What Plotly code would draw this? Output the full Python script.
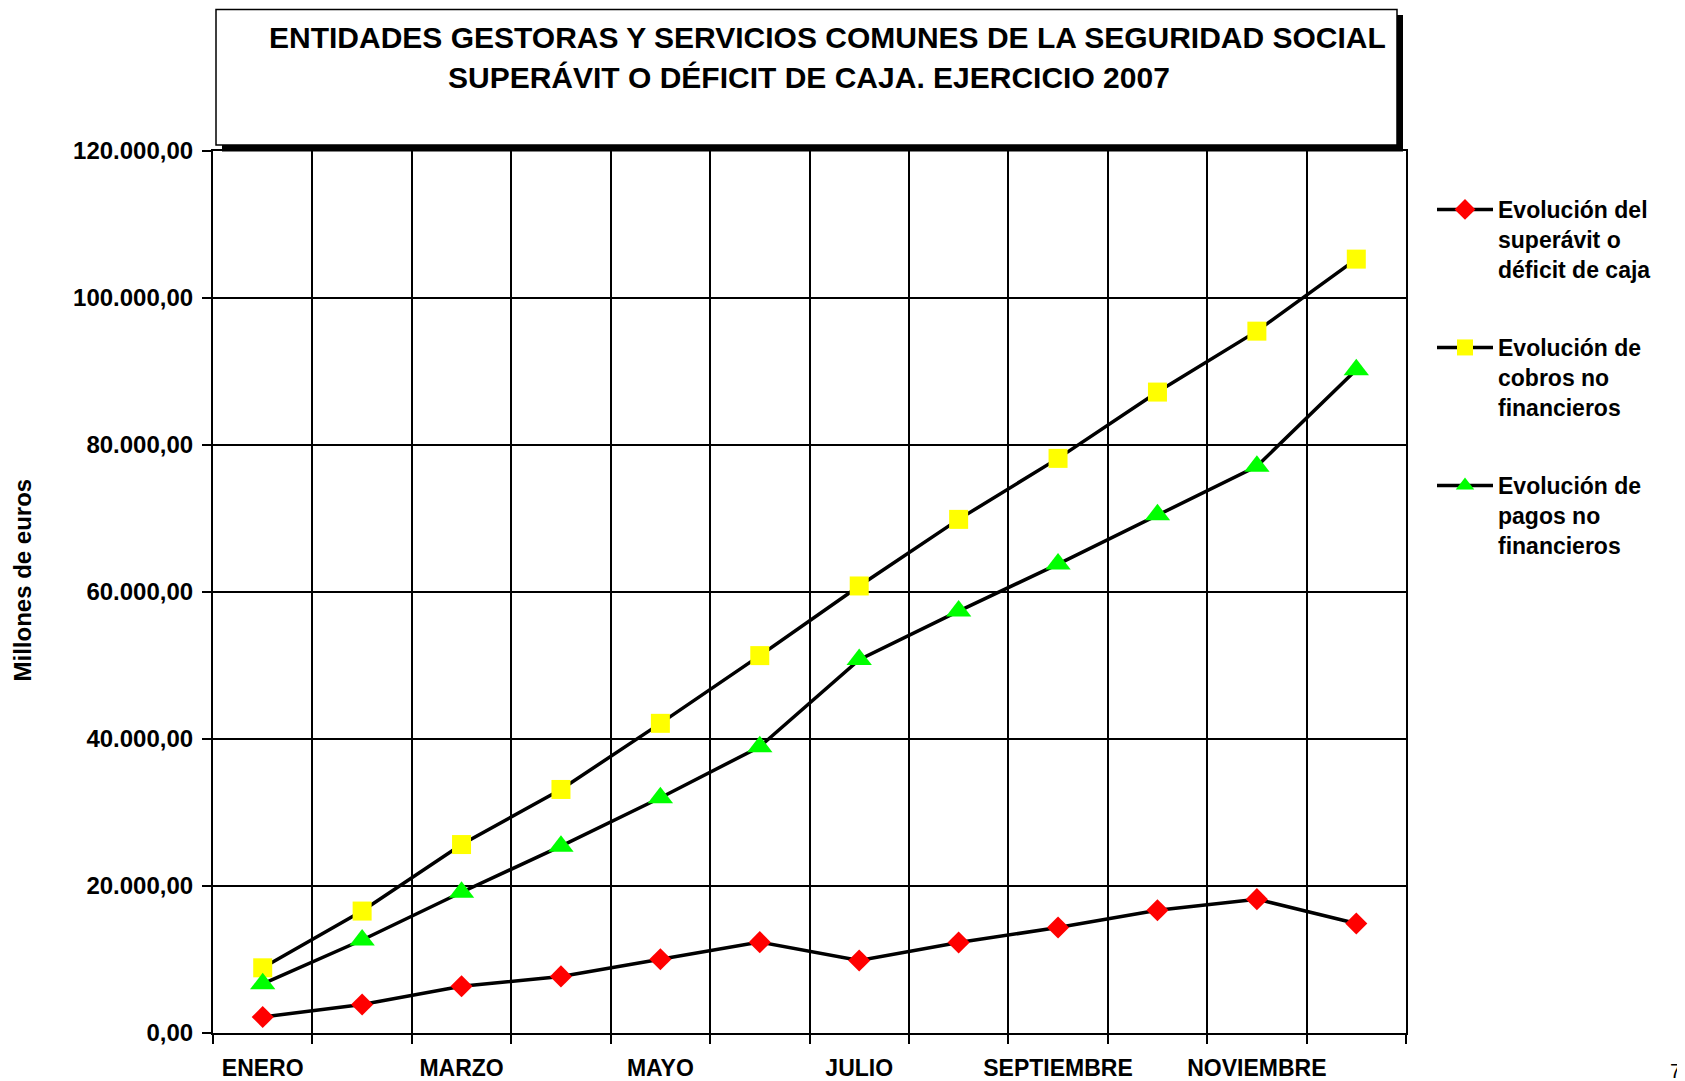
import plotly.graph_objects as go

# ---------------- data ----------------
months = ["ENERO", "FEBRERO", "MARZO", "ABRIL", "MAYO", "JUNIO", "JULIO",
          "AGOSTO", "SEPTIEMBRE", "OCTUBRE", "NOVIEMBRE", "DICIEMBRE"]
month_pos = list(range(1, 13))
label_pos = [1, 3, 5, 7, 9, 11]
label_text = ["ENERO", "MARZO", "MAYO", "JULIO", "SEPTIEMBRE", "NOVIEMBRE"]
grid_pos = [i + 0.5 for i in range(0, 13)]

superavit = [2180, 3870, 6365, 7700, 10040, 12360, 9860, 12310, 14350, 16710, 18210, 14900]
cobros = [8870, 16590, 25640, 33135, 42130, 51345, 60820, 69880, 78180, 87200, 95490, 105290]
pagos = [6690, 12650, 19150, 25420, 32000, 38950, 50800, 57400, 63800, 70500, 77100, 90250]

names = ["Evolución del<br>superávit o<br>déficit de caja",
         "Evolución de<br>cobros no<br>financieros",
         "Evolución de<br>pagos no<br>financieros"]

title1 = "ENTIDADES GESTORAS Y SERVICIOS COMUNES DE LA SEGURIDAD SOCIAL"
title2 = "SUPERÁVIT O DÉFICIT DE CAJA. EJERCICIO 2007"
ytitle = "Millones de euros"
page_number = "7"

# ---------------- layout geometry (screen pixels) ----------------
OFF = 8                      # page body margin
SW, SH = 1685, 1081          # screen size
W, H = SW - OFF, SH - OFF    # figure size
L, R, T, B = 213, 1406, 151, 1033   # plot area in screen pixels
FONT = "Liberation Sans, Arial, sans-serif"


def px(x):
    return (x - L) / (R - L)


def py(y):
    return (B - y) / (B - T)


def cx(x):
    return (x - OFF) / W


def cy(y):
    return 1 - (y - OFF) / H


fig = go.Figure()

fig.add_trace(go.Scatter(
    x=month_pos, y=superavit, name=names[0], mode="lines+markers",
    line=dict(color="black", width=3.5),
    marker=dict(symbol="diamond", size=17, color="#FF0000", line=dict(width=0)),
    legend="legend"))
fig.add_trace(go.Scatter(
    x=month_pos, y=cobros, name=names[1], mode="lines+markers",
    line=dict(color="black", width=3.5),
    marker=dict(symbol="square", size=19, color="#FFFF00", line=dict(width=0)),
    legend="legend2"))
fig.add_trace(go.Scatter(
    x=month_pos, y=pagos, name=names[2], mode="lines+markers",
    line=dict(color="black", width=3.5),
    marker=dict(symbol="triangle-up", size=22, color="#00FF00", line=dict(width=0)),
    legend="legend3"))

legfont = dict(family=FONT, size=23, color="black", weight="bold")
leg_common = dict(xref="container", yref="container", xanchor="left", yanchor="top",
                  valign="top", font=legfont, bgcolor="rgba(0,0,0,0)", borderwidth=0,
                  itemwidth=56, tracegroupgap=0)

fig.update_layout(
    width=W, height=H,
    margin=dict(l=L - OFF, r=SW - R, t=T - OFF, b=SH - B, pad=0, autoexpand=False),
    paper_bgcolor="white", plot_bgcolor="white",
    separators=",.",
    showlegend=True,
    legend=dict(x=cx(1432), y=cy(188), **leg_common),
    legend2=dict(x=cx(1432), y=cy(326), **leg_common),
    legend3=dict(x=cx(1432), y=cy(464), **leg_common),
    xaxis=dict(
        range=[0.5, 12.5], tickmode="array", tickvals=label_pos, ticktext=label_text,
        showgrid=False, ticks="", zeroline=False, automargin=False,
        showline=True, linecolor="black", linewidth=2, mirror=True,
        tickfont=dict(family=FONT, size=23, color="black", weight="bold"),
        ticklabelstandoff=13,
        minor=dict(tickmode="array", tickvals=grid_pos, showgrid=True,
                   gridcolor="black", gridwidth=1.5, ticks="outside",
                   ticklen=9, tickcolor="black", tickwidth=1.5),
    ),
    yaxis=dict(
        range=[0, 120000], tickmode="linear", tick0=0, dtick=20000,
        tickformat=",.2f", showgrid=True, gridcolor="black", gridwidth=1.5,
        zeroline=False, showline=True, linecolor="black", linewidth=2, mirror=True,
        automargin=False,
        ticks="outside", ticklen=9, tickcolor="black", tickwidth=1.5,
        tickfont=dict(family=FONT, size=24, color="black", weight="bold"),
        ticklabelstandoff=4,
    ),
)

# title box with shadow
fig.add_shape(type="rect", xref="paper", yref="paper",
              x0=px(222), x1=px(1403), y0=py(151.5), y1=py(15),
              fillcolor="black", line=dict(width=0), layer="above")
fig.add_shape(type="rect", xref="paper", yref="paper",
              x0=px(216), x1=px(1397), y0=py(145), y1=py(9.5),
              fillcolor="white", line=dict(color="black", width=1.5), layer="above")

fig.add_annotation(x=px(827), y=py(37.6), xref="paper", yref="paper",
                   text=title1, showarrow=False, xanchor="center", yanchor="middle",
                   font=dict(family=FONT, size=30, color="black", weight="bold"))
fig.add_annotation(x=px(809), y=py(77.4), xref="paper", yref="paper",
                   text=title2, showarrow=False, xanchor="center", yanchor="middle",
                   font=dict(family=FONT, size=30, color="black", weight="bold"))

fig.add_annotation(x=px(21.5), y=py(580), xref="paper", yref="paper",
                   text=ytitle, showarrow=False, textangle=-90,
                   xanchor="center", yanchor="middle",
                   font=dict(family=FONT, size=24, color="black", weight="bold"))

fig.add_annotation(x=px(1668), y=py(1058), xref="paper", yref="paper",
                   text=page_number, showarrow=False, xanchor="left", yanchor="top",
                   font=dict(family=FONT, size=20, color="black"))

fig.write_html("out.html")
